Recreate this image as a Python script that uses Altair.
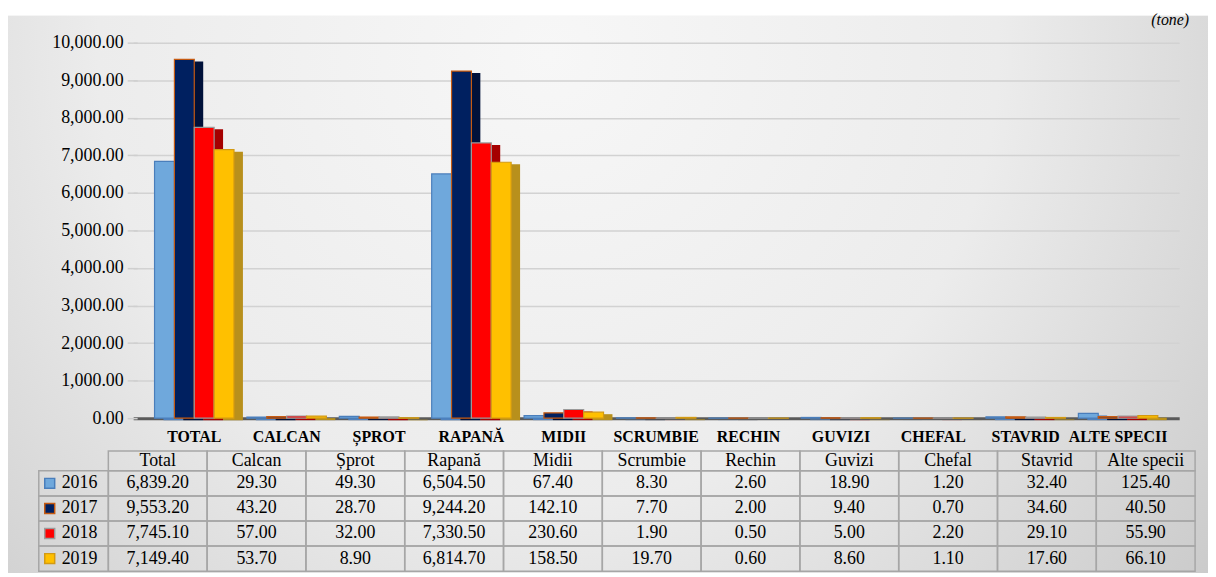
import altair as alt
import pandas as pd

# ---------------- data ----------------
categories = ["TOTAL", "CALCAN", "ȘPROT", "RAPANĂ", "MIDII", "SCRUMBIE",
              "RECHIN", "GUVIZI", "CHEFAL", "STAVRID", "ALTE SPECII"]
table_headers = ["Total", "Calcan", "Șprot", "Rapană", "Midii", "Scrumbie",
                 "Rechin", "Guvizi", "Chefal", "Stavrid", "Alte specii"]
years = ["2016", "2017", "2018", "2019"]
v2016 = [6839.20, 29.30, 49.30, 6504.50, 67.40, 8.30, 2.60, 18.90, 1.20, 32.40, 125.40]
v2017 = [9553.20, 43.20, 28.70, 9244.20, 142.10, 7.70, 2.00, 9.40, 0.70, 34.60, 40.50]
v2018 = [7745.10, 57.00, 32.00, 7330.50, 230.60, 1.90, 0.50, 5.00, 2.20, 29.10, 55.90]
v2019 = [7149.40, 53.70, 8.90, 6814.70, 158.50, 19.70, 0.60, 8.60, 1.10, 17.60, 66.10]
y_ticks = [0, 1000, 2000, 3000, 4000, 5000, 6000, 7000, 8000, 9000, 10000]
unit_label = "(tone)"

series = {"2016": v2016, "2017": v2017, "2018": v2018, "2019": v2019}

# ---------------- styles ----------------
front_colors = ["#6fa8dc", "#002060", "#ff0000", "#ffc000"]
side_colors = ["#4f81bd", "#00113a", "#a50000", "#b8901c"]
edge_colors = ["#4a7ebb", "#c55a11", "#9a9a9a", "#d39a12"]
FONT = "Liberation Serif"

rows = []
for y in years:
    for cat, hdr, v in zip(categories, table_headers, series[y]):
        rows.append({"cat": cat, "col": hdr, "year": y, "value": v,
                     "label": f"{v:,.2f}"})
df = pd.DataFrame(rows)
hdr_df = pd.DataFrame({"col": table_headers, "row": ["hdr"] * len(table_headers)})
leg_df = pd.DataFrame({"year": years, "lc": ["legend"] * len(years)})

W, H = 1208, 561

# ---------------- bars ----------------
x_front = alt.Scale(domain=categories, range=[126, 1179], paddingInner=0.14, paddingOuter=0.2314)
x_side = alt.Scale(domain=categories, range=[135, 1188], paddingInner=0.14, paddingOuter=0.2314)
y_front = alt.Scale(domain=[0, 10000], range=[405, 27], nice=False, zero=True)
y_side = alt.Scale(domain=[0, 10000], range=[407, 29], nice=False, zero=True)

side = alt.Chart(df).mark_bar().encode(
    x=alt.X("cat:N", sort=categories, scale=x_side, axis=None),
    xOffset=alt.XOffset("year:N", sort=years),
    y=alt.Y("value:Q", scale=y_side, axis=None),
    color=alt.Color("year:N", scale=alt.Scale(domain=years, range=side_colors), legend=None),
)

front = alt.Chart(df).mark_bar(strokeWidth=1.2).encode(
    x=alt.X("cat:N", sort=categories, scale=x_front,
            axis=alt.Axis(orient="bottom", offset=-156, title=None, ticks=False,
                          domain=True, domainColor="#5a5a5a", domainWidth=3,
                          labelFont=FONT, labelFontSize=16, labelFontWeight="bold",
                          labelColor="black", labelPadding=18, labelBaseline="middle",
                          labelAngle=0, labelOverlap=False, grid=False)),
    xOffset=alt.XOffset("year:N", sort=years),
    y=alt.Y("value:Q", scale=y_front,
            axis=alt.Axis(orient="left", offset=-130, title=None, values=y_ticks,
                          format=",.2f", labelFont=FONT, labelFontSize=18,
                          labelColor="black", labelPadding=4, tickSize=10,
                          tickColor="#cfcfcf", tickWidth=1.5, domain=False,
                          grid=True, gridColor="#d2d2d2", gridWidth=1.5)),
    color=alt.Color("year:N", scale=alt.Scale(domain=years, range=front_colors), legend=None),
    stroke=alt.Stroke("year:N", scale=alt.Scale(domain=years, range=edge_colors), legend=None),
)

# ---------------- data table ----------------
x_tab = alt.Scale(domain=table_headers, range=[101, 1195], paddingInner=0, paddingOuter=0)
y_hdr = alt.Scale(domain=["hdr"], range=[438, 458], paddingInner=0, paddingOuter=0)
y_rows = alt.Scale(domain=years, range=[458, 559], paddingInner=0, paddingOuter=0)
x_leg = alt.Scale(domain=["legend"], range=[31, 101], paddingInner=0, paddingOuter=0)

cell_style = dict(fill=None, stroke="#a6a6a6", strokeWidth=1.5)
text_style = dict(font=FONT, fontSize=18, color="black", baseline="middle")

hdr_rect = alt.Chart(hdr_df).mark_rect(**cell_style).encode(
    x=alt.X("col:N", scale=x_tab, axis=None),
    y=alt.Y("row:N", scale=y_hdr, axis=None),
)
hdr_text = alt.Chart(hdr_df).mark_text(**text_style).encode(
    x=alt.X("col:N", scale=x_tab, axis=None),
    y=alt.Y("row:N", scale=y_hdr, axis=None),
    text="col:N",
)
val_rect = alt.Chart(df).mark_rect(**cell_style).encode(
    x=alt.X("col:N", scale=x_tab, axis=None),
    y=alt.Y("year:N", scale=y_rows, axis=None),
)
val_text = alt.Chart(df).mark_text(**text_style).encode(
    x=alt.X("col:N", scale=x_tab, axis=None),
    y=alt.Y("year:N", scale=y_rows, axis=None),
    text="label:N",
)
leg_rect = alt.Chart(leg_df).mark_rect(**cell_style).encode(
    x=alt.X("lc:N", scale=x_leg, axis=None),
    y=alt.Y("year:N", scale=y_rows, axis=None),
)
leg_sq = alt.Chart(leg_df).mark_square(size=100, xOffset=-24, opacity=1,
                                       strokeWidth=1.5, filled=True).encode(
    x=alt.X("lc:N", scale=x_leg, axis=None),
    y=alt.Y("year:N", scale=y_rows, axis=None),
    color=alt.Color("year:N", scale=alt.Scale(domain=years, range=front_colors), legend=None),
    stroke=alt.Stroke("year:N", scale=alt.Scale(domain=years, range=edge_colors), legend=None),
)
leg_text = alt.Chart(leg_df).mark_text(align="left", dx=-12, **text_style).encode(
    x=alt.X("lc:N", scale=x_leg, axis=None),
    y=alt.Y("year:N", scale=y_rows, axis=None),
    text="year:N",
)

bg_expr = ("{gradient: 'radial', x1: 0.45, y1: 0.3, r1: 0, x2: 0.45, y2: 0.3, r2: 0.75, "
           "stops: [{offset: 0, color: '#f7f7f7'}, {offset: 0.5, color: '#ececec'}, "
           "{offset: 1, color: '#c6c6c6'}]}")

chart = alt.layer(
    side, front, hdr_rect, hdr_text, val_rect, val_text, leg_rect, leg_sq, leg_text
).resolve_scale(
    x="independent", y="independent", color="independent", stroke="independent"
).properties(
    width=W, height=H,
    autosize=alt.AutoSizeParams(type="none"),
    padding={"left": 0, "top": 6, "right": 0, "bottom": 0},
    title=alt.TitleParams(unit_label, anchor="end", font=FONT, fontSize=16,
                          fontStyle="italic", fontWeight="normal", color="black",
                          dx=-19, dy=12, offset=0),
).configure_view(
    stroke=None, fill=alt.ExprRef(bg_expr)
)

chart.save("out.html", embed_options={"renderer": "svg", "actions": False})
